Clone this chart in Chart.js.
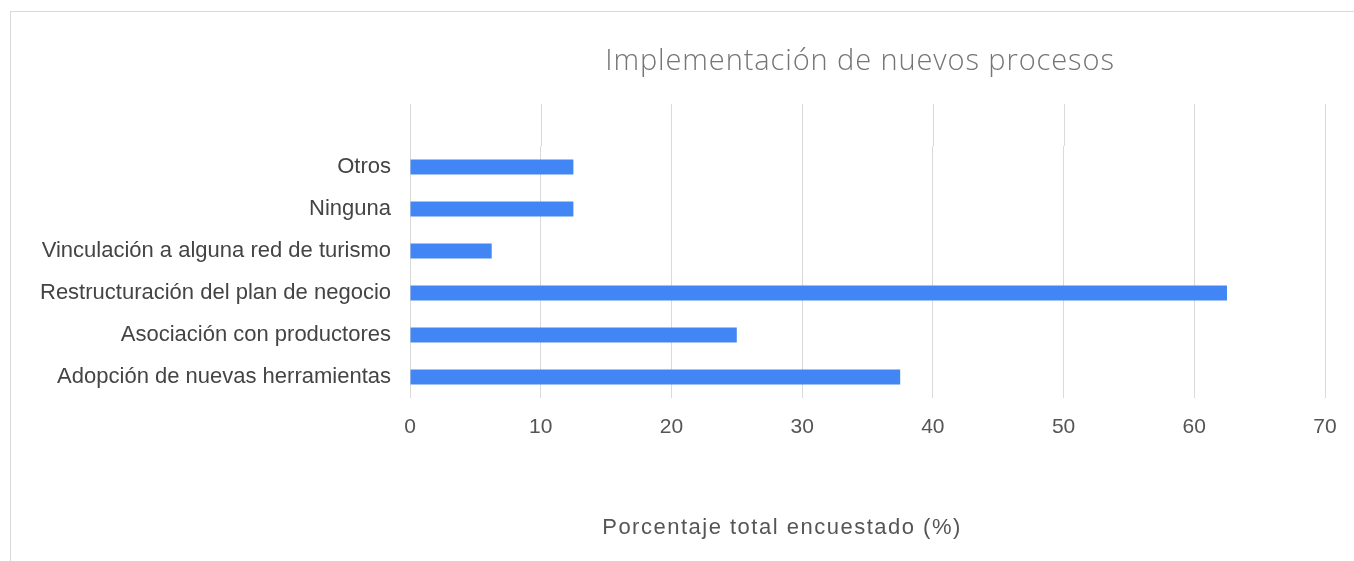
<!DOCTYPE html>
<html>
<head>
<meta charset="utf-8">
<script src="https://cdn.jsdelivr.net/npm/chart.js@4/dist/chart.umd.min.js"></script>
<style>
  html, body { margin: 0; padding: 0; background: #fff; overflow: hidden; }
  #wrap { position: relative; width: 1354px; height: 561px; overflow: hidden; }
  .frame { position: absolute; left: 10px; top: 11px; width: 1400px; height: 600px; border: 1px solid #dadada; box-sizing: border-box; }
  #chart { position: absolute; left: 0; top: 0; }
  .title { position: absolute; left: 860px; top: 39px; transform: translateX(-50%); white-space: nowrap;
           font-family: "Open Sans", sans-serif; font-weight: 300; font-size: 29px; letter-spacing: 0.9px; color: #757575; }
  .axis-title { position: absolute; left: 782px; top: 514px; transform: translateX(-50%); white-space: nowrap;
                font-family: "Liberation Sans", Arial, sans-serif; font-size: 22px; letter-spacing: 1.5px; color: #555; }
</style>
</head>
<body>
<div id="wrap">
  <div class="frame"></div>
  <canvas id="chart" width="1354" height="561"></canvas>
  <div class="title">Implementación de nuevos procesos</div>
  <div class="axis-title">Porcentaje total encuestado (%)</div>
</div>
<script>
const CATEGORIES = [
  "Otros",
  "Ninguna",
  "Vinculación a alguna red de turismo",
  "Restructuración del plan de negocio",
  "Asociación con productores",
  "Adopción de nuevas herramientas"
];
const PERCENT = [12.5, 12.5, 6.25, 62.5, 25, 37.5];
const X_MIN = 0, X_MAX = 70, X_STEP = 10;

const GRID = "#dadada";
const FONT = "'Liberation Sans', Arial, sans-serif";

// the reference text is a bit wide, loosen it a little
const spacing = {
  id: "spacing",
  beforeInit(chart) { chart.ctx.letterSpacing = "0.7px"; }
};

// google-style grid: vertical lines run one band above the first bar
const gridExtend = {
  id: "gridExtend",
  beforeDatasetsDraw(chart) {
    const { ctx, chartArea, scales } = chart;
    const band = (chartArea.bottom - chartArea.top) / CATEGORIES.length;
    ctx.save();
    ctx.strokeStyle = GRID;
    ctx.lineWidth = 1;
    scales.x.ticks.forEach(t => {
      const x = Math.round(scales.x.getPixelForValue(t.value)) + 0.5;
      ctx.beginPath();
      ctx.moveTo(x, chartArea.top - band);
      ctx.lineTo(x, chartArea.top);
      ctx.stroke();
    });
    ctx.restore();
  }
};

new Chart(document.getElementById("chart"), {
  type: "bar",
  data: {
    labels: CATEGORIES,
    datasets: [{
      data: PERCENT,
      backgroundColor: "#4285f4",
      borderWidth: 0,
      categoryPercentage: 1,
      barPercentage: 0.36
    }]
  },
  options: {
    indexAxis: "y",
    responsive: false,
    animation: false,
    layout: { padding: { top: 146, right: 29, bottom: 0, left: 0 } },
    plugins: { legend: { display: false }, tooltip: { enabled: false } },
    scales: {
      x: {
        min: X_MIN, max: X_MAX,
        ticks: { stepSize: X_STEP, color: "#555", padding: 17, font: { family: FONT, size: 21 } },
        grid: { color: GRID, drawTicks: false },
        border: { display: false },
        afterFit: s => { s.height = 163; }
      },
      y: {
        ticks: { color: "#444", padding: 19, font: { family: FONT, size: 22 } },
        grid: { display: false, drawTicks: false },
        border: { display: false },
        afterFit: s => { s.width = 410; }
      }
    }
  },
  plugins: [spacing, gridExtend]
});
</script>
</body>
</html>
